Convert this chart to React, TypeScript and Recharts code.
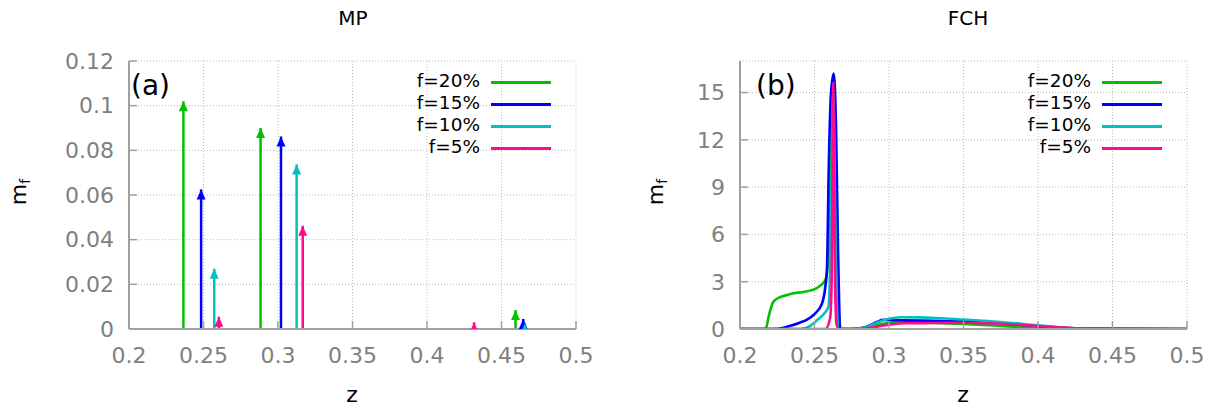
import React from 'react';
import { LineChart, Line, XAxis, YAxis, CartesianGrid } from 'recharts';

// ---- shared ----
const zTicks = [0.2, 0.25, 0.3, 0.35, 0.4, 0.45, 0.5];
const mpTicks = [0, 0.02, 0.04, 0.06, 0.08, 0.1, 0.12];
const fchTicks = [0, 3, 6, 9, 12, 15];
const seriesLabels = ['f=20%', 'f=15%', 'f=10%', 'f=5%'];
const seriesColors = ['#00c000', '#0000ff', '#00c0c0', '#ff0a8c'];

// ---- (a) MP : arrows (z position, m_f height) ----
const mpZ20 = [0.2365, 0.2883, 0.4594];
const mpM20 = [0.102, 0.09, 0.0085];
const mpZ15 = [0.2484, 0.302, 0.4646];
const mpM15 = [0.0625, 0.0862, 0.0045];
const mpZ10 = [0.2572, 0.3125, 0.4657];
const mpM10 = [0.027, 0.0737, 0.0025];
const mpZ5 = [0.2603, 0.3166, 0.4316];
const mpM5 = [0.0055, 0.0462, 0.003];

// ---- (b) FCH : curves ----
const fchZ20 = [0.2, 0.2172, 0.2195, 0.2222, 0.2265, 0.2315, 0.237, 0.2427, 0.2475, 0.2506, 0.2545, 0.2573, 0.2598, 0.2612, 0.2625, 0.2638, 0.2652, 0.2668, 0.275, 0.283, 0.29, 0.298, 0.306, 0.315, 0.33, 0.35, 0.37, 0.39, 0.41, 0.43, 0.5];
const fchM20 = [0, 0, 0.9, 1.7, 2.0, 2.15, 2.28, 2.35, 2.45, 2.55, 2.8, 3.1, 5, 11, 15.6, 9, 1.5, 0, 0, 0.04, 0.22, 0.36, 0.42, 0.42, 0.39, 0.32, 0.22, 0.12, 0.04, 0.01, 0];

const fchZ15 = [0.2, 0.222, 0.23, 0.2338, 0.24, 0.245, 0.25, 0.255, 0.2573, 0.2584, 0.2595, 0.2611, 0.2629, 0.2644, 0.2658, 0.2673, 0.275, 0.285, 0.292, 0.296, 0.3, 0.31, 0.33, 0.35, 0.37, 0.39, 0.41, 0.43, 0.5];
const fchM15 = [0, 0, 0.1, 0.2, 0.4, 0.6, 0.95, 1.6, 2.7, 3.9, 9.9, 15, 16.2, 13, 5, 0, 0, 0.15, 0.45, 0.58, 0.56, 0.55, 0.52, 0.47, 0.38, 0.25, 0.12, 0.03, 0];

const fchZ10 = [0.2, 0.2405, 0.2472, 0.2517, 0.2562, 0.2595, 0.2608, 0.2626, 0.2642, 0.2658, 0.275, 0.285, 0.293, 0.3, 0.308, 0.32, 0.335, 0.35, 0.37, 0.39, 0.41, 0.425, 0.44, 0.5];
const fchM10 = [0, 0, 0.2, 0.55, 0.95, 1.45, 5, 15, 5, 0, 0, 0.12, 0.45, 0.65, 0.75, 0.74, 0.68, 0.6, 0.48, 0.32, 0.15, 0.05, 0, 0];

const fchZ5 = [0.2, 0.2573, 0.2605, 0.2615, 0.2626, 0.2638, 0.2648, 0.2665, 0.28, 0.29, 0.3, 0.31, 0.33, 0.35, 0.37, 0.39, 0.41, 0.425, 0.44, 0.5];
const fchM5 = [0, 0, 0.7, 3, 15.6, 3, 0.3, 0, 0, 0.12, 0.28, 0.36, 0.38, 0.4, 0.35, 0.25, 0.13, 0.05, 0, 0];

const mpZ = [mpZ20, mpZ15, mpZ10, mpZ5];
const mpM = [mpM20, mpM15, mpM10, mpM5];
const fchZ = [fchZ20, fchZ15, fchZ10, fchZ5];
const fchM = [fchM20, fchM15, fchM10, fchM5];

const FONT = '"DejaVu Sans", Verdana, sans-serif';
const TICK_COLOR = '#808080';
const BORDER = '#a0a0a0';

const tickStyle = { fill: TICK_COLOR, fontSize: 22, fontFamily: FONT };

const makeArrowDot = (color: string) => (props: any) => {
  const { cx, cy, index } = props;
  if (index !== 1 || cx == null || cy == null) return <g key={`d-${index}-${cx}`} />;
  const w = 4.5;
  const h = 10;
  return (
    <path
      key={`a-${cx}-${cy}`}
      d={`M${cx},${cy} L${cx - w},${cy + h} L${cx + w},${cy + h} Z`}
      fill={color}
      stroke="none"
    />
  );
};

const fmt = (v: number) => String(v);

function Panel({
  kind,
  left,
  width,
  yTicks,
  yDomain,
}: {
  kind: 'mp' | 'fch';
  left: number;
  width: number;
  yTicks: number[];
  yDomain: [number, number];
}) {
  const plotLeft = kind === 'mp' ? 129 : 740;
  const plotRight = kind === 'mp' ? 576 : 1187;
  const yAxisW = 60;
  const xAxisH = 40;
  const margin = {
    top: 61,
    left: plotLeft - left - yAxisW,
    right: left + width - plotRight,
    bottom: 410 - 329 - xAxisH,
  };
  const lines: React.ReactNode[] = [];
  if (kind === 'mp') {
    mpZ.forEach((zs, si) => {
      zs.forEach((z, k) => {
        const data = [
          { z, m: 0 },
          { z, m: mpM[si][k] },
        ];
        lines.push(
          <Line
            key={`mp-${si}-${k}`}
            data={data}
            dataKey="m"
            type="linear"
            stroke={seriesColors[si]}
            strokeWidth={2.5}
            dot={makeArrowDot(seriesColors[si])}
            activeDot={false}
            isAnimationActive={false}
          />
        );
      });
    });
  } else {
    fchZ.forEach((zs, si) => {
      const data = zs.map((z, k) => ({ z, m: fchM[si][k] }));
      lines.push(
        <Line
          key={`fch-${si}`}
          data={data}
          dataKey="m"
          type="monotone"
          stroke={seriesColors[si]}
          strokeWidth={2.6}
          dot={false}
          activeDot={false}
          isAnimationActive={false}
        />
      );
    });
  }
  return (
    <div style={{ position: 'absolute', left, top: 0 }}>
      <LineChart width={width} height={410} margin={margin}>
        <CartesianGrid stroke="#bdbdbd" strokeDasharray="1 2" strokeWidth={1} />
        <XAxis
          xAxisId={0}
          dataKey="z"
          type="number"
          domain={[0.2, 0.5]}
          ticks={zTicks}
          allowDataOverflow
          allowDuplicatedCategory
          height={xAxisH}
          tickSize={-8}
          tickMargin={26}
          tick={tickStyle}
          tickFormatter={fmt}
          axisLine={{ stroke: BORDER, strokeWidth: 2 }}
          tickLine={{ stroke: BORDER, strokeWidth: 1.5 }}
          interval={0}
        />
        <XAxis
          xAxisId="top"
          orientation="top"
          dataKey="z"
          type="number"
          domain={[0.2, 0.5]}
          ticks={zTicks}
          allowDataOverflow
          height={0}
          tickSize={-8}
          tick={false}
          axisLine={{ stroke: BORDER, strokeWidth: 2 }}
          tickLine={{ stroke: BORDER, strokeWidth: 1.5 }}
        />
        <YAxis
          yAxisId={0}
          type="number"
          domain={yDomain}
          ticks={yTicks}
          allowDataOverflow
          width={yAxisW}
          tickSize={-8}
          tickMargin={23}
          tick={tickStyle}
          tickFormatter={fmt}
          axisLine={{ stroke: BORDER, strokeWidth: 2 }}
          tickLine={{ stroke: BORDER, strokeWidth: 1.5 }}
          interval={0}
        />
        <YAxis
          yAxisId="right"
          orientation="right"
          type="number"
          domain={yDomain}
          ticks={yTicks}
          allowDataOverflow
          width={0}
          tickSize={-8}
          tick={false}
          axisLine={{ stroke: BORDER, strokeWidth: 2 }}
          tickLine={{ stroke: BORDER, strokeWidth: 1.5 }}
        />
        {lines}
      </LineChart>
    </div>
  );
}

const abs = (x: number, y: number, extra: React.CSSProperties = {}): React.CSSProperties => ({
  position: 'absolute',
  left: x,
  top: y,
  fontFamily: FONT,
  whiteSpace: 'nowrap',
  lineHeight: 1,
  ...extra,
});

function Legend({ textRight, lineLeft }: { textRight: number; lineLeft: number }) {
  const rows = [82, 104, 126, 148];
  return (
    <>
      {seriesLabels.map((lab, i) => (
        <React.Fragment key={lab}>
          <div
            style={abs(textRight - 200, rows[i] - 10, {
              width: 200,
              textAlign: 'right',
              fontSize: 18.5,
              color: '#000',
            })}
          >
            {lab}
          </div>
          <div
            style={{
              position: 'absolute',
              left: lineLeft,
              top: rows[i] - 1.5,
              width: 60,
              height: 3,
              background: seriesColors[i],
            }}
          />
        </React.Fragment>
      ))}
    </>
  );
}

function YLabel({ cx, cy }: { cx: number; cy: number }) {
  return (
    <div
      style={abs(cx - 30, cy - 14, {
        width: 60,
        height: 28,
        textAlign: 'center',
        fontSize: 22,
        transform: 'rotate(-90deg)',
        transformOrigin: '50% 50%',
        lineHeight: '28px',
      })}
    >
      m<sub style={{ fontSize: 14, verticalAlign: -4 }}>f</sub>
    </div>
  );
}

export default function App() {
  return (
    <div
      style={{
        position: 'absolute',
        left: 0,
        top: 0,
        width: 1221,
        height: 410,
        background: '#fff',
        overflow: 'hidden',
      }}
    >
      <Panel kind="mp" left={0} width={610} yTicks={mpTicks} yDomain={[0, 0.12]} />
      <Panel kind="fch" left={610} width={611} yTicks={fchTicks} yDomain={[0, 17]} />

      <div style={abs(303, 8, { width: 100, textAlign: 'center', fontSize: 20 })}>MP</div>
      <div style={abs(918, 8, { width: 100, textAlign: 'center', fontSize: 20 })}>FCH</div>

      <div style={abs(131, 72, { fontSize: 28 })}>(a)</div>
      <div style={abs(756, 72, { fontSize: 28 })}>(b)</div>

      <Legend textRight={480} lineLeft={491} />
      <Legend textRight={1091} lineLeft={1102} />

      <YLabel cx={19} cy={192} />
      <YLabel cx={656} cy={192} />

      <div style={abs(302, 384, { width: 100, textAlign: 'center', fontSize: 22 })}>z</div>
      <div style={abs(913, 384, { width: 100, textAlign: 'center', fontSize: 22 })}>z</div>
    </div>
  );
}
